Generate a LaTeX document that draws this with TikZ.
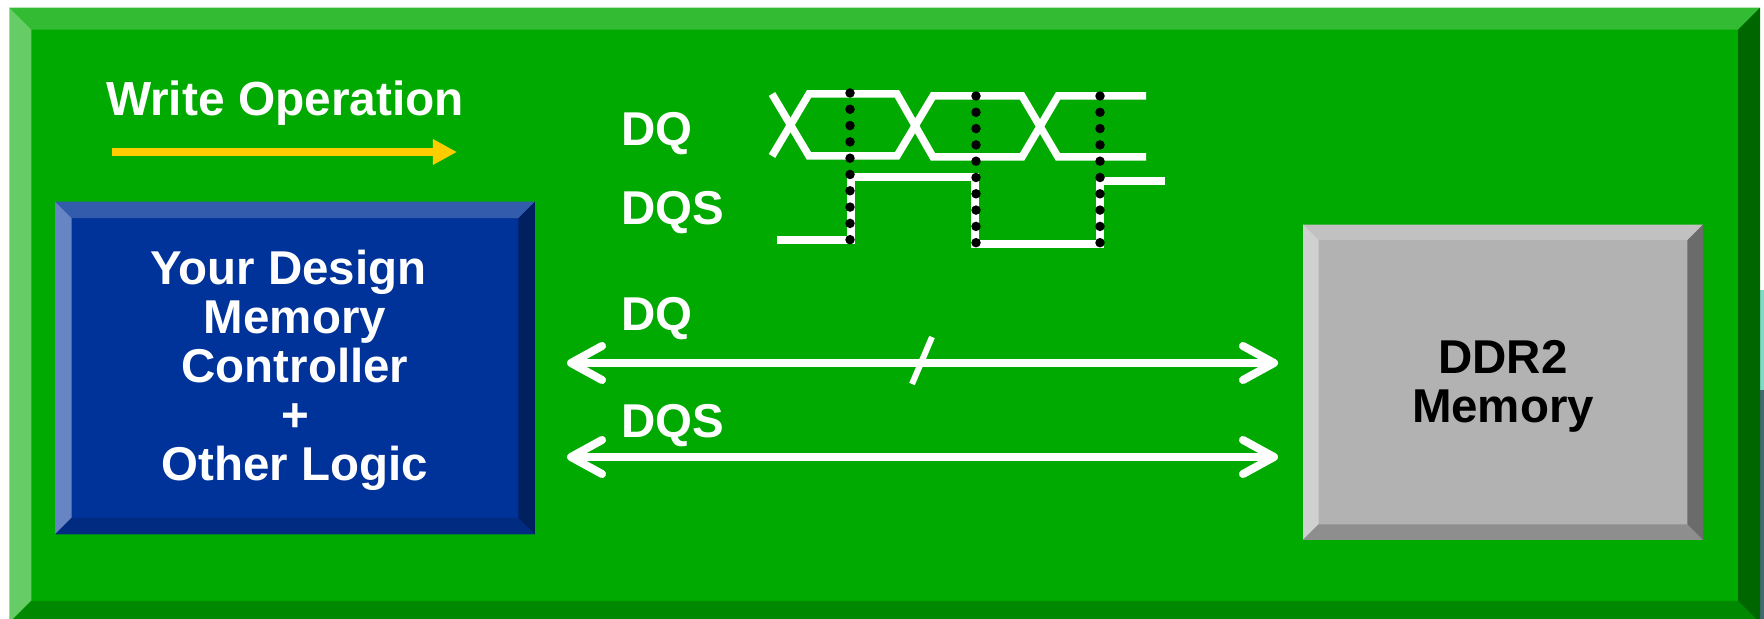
\documentclass[tikz,border=0pt]{standalone}
\usepackage{fontspec}
\setmainfont{Liberation Sans}
\usetikzlibrary{arrows.meta,calc}
\definecolor{framegreen}{HTML}{00AA00}
\definecolor{frametop}{HTML}{33BB33}
\definecolor{frameleft}{HTML}{66CC66}
\definecolor{framebottom}{HTML}{008800}
\definecolor{frameright}{HTML}{006600}
\definecolor{designblue}{HTML}{003399}
\definecolor{designtop}{HTML}{335CAD}
\definecolor{designleft}{HTML}{6685C2}
\definecolor{designbottom}{HTML}{002B80}
\definecolor{designright}{HTML}{002060}
\definecolor{memgray}{HTML}{B2B2B2}
\definecolor{memtop}{HTML}{C1C1C1}
\definecolor{memleft}{HTML}{D0D0D0}
\definecolor{membottom}{HTML}{8E8E8E}
\definecolor{memright}{HTML}{6B6B6B}
\definecolor{writeyellow}{HTML}{FFCC00}
\definecolor{edgelight}{HTML}{7FD8C8}
\definecolor{edgedark}{HTML}{3F6A70}
% node name, depth, then top, left, bottom and right colours
\newcommand{\bevelnode}[6]{
  \coordinate (inw) at ($(#1.north west)+(#2,#2)$);
  \coordinate (ine) at ($(#1.north east)+(-#2,#2)$);
  \coordinate (isw) at ($(#1.south west)+(#2,-#2)$);
  \coordinate (ise) at ($(#1.south east)+(-#2,-#2)$);
  \fill[#3] (#1.north west) -- (#1.north east) -- (ine) -- (inw) -- cycle;
  \fill[#4] (#1.north west) -- (#1.south west) -- (isw) -- (inw) -- cycle;
  \fill[#5] (#1.south west) -- (#1.south east) -- (ise) -- (isw) -- cycle;
  \fill[#6] (#1.north east) -- (#1.south east) -- (ise) -- (ine) -- cycle;
}
\begin{document}
\begin{tikzpicture}[
  x=0.01cm, y=-0.01cm,
  bevelbox/.style={rectangle, inner sep=0pt, align=center, font=\fontsize{13.5}{13.95}\selectfont\bfseries},
  label/.style={inner sep=0pt, anchor=base west, text=white, font=\fontsize{13.5}{14}\selectfont\bfseries},
  wave/.style={draw=white, line width=0.075cm, miter limit=10},
  bus/.style={draw=white, line width=0.08cm, {Straight Barb[length=0.31cm,width=0.34cm,round]}-{Straight Barb[length=0.31cm,width=0.34cm,round]}},
  strobe/.style={fill=black, circle, inner sep=0pt, minimum size=0.095cm},
]
  \useasboundingbox (0,0) rectangle (1764,619);

  % scrap at the right edge
  \fill[edgelight] (1755,290) rectangle (1764,390);
  \fill[edgedark] (1755,390) rectangle (1764,619);

  % frame
  \node[bevelbox, fill=framegreen, minimum width=17.485cm, minimum height=6.135cm] (frame) at (884.75,315.25) {};
  \bevelnode{frame}{22}{frametop}{frameleft}{framebottom}{frameright}

  % boxes
  \node[bevelbox, fill=designblue, text=white, minimum width=4.78cm, minimum height=3.31cm] (design) at (295,368)
    {\rule{0pt}{0.385cm}Your Design\hspace*{0.13cm}\\Memory\\Controller\\+\\Other Logic};
  \bevelnode{design}{16.5}{designtop}{designleft}{designbottom}{designright}
  \node[bevelbox, fill=memgray, text=black, minimum width=3.98cm, minimum height=3.135cm] (memory) at (1503,382.25)
    {\rule{0pt}{0.42cm}DDR2\\Memory};
  \bevelnode{memory}{15.5}{memtop}{memleft}{membottom}{memright}

  % write direction
  \node[label, anchor=base, font=\fontsize{13.6}{14}\selectfont\bfseries] (write) at (285,116) {Write Operation};
  \coordinate (writes) at (112,152);
  \coordinate (writee) at (457,152);
  \draw[writeyellow, line width=0.08cm, -{Triangle[length=0.24cm,width=0.24cm]}] (writes) -- (writee);

  % waveforms
  \node[label] (dqtop) at (621,146) {DQ};
  \node[label] (dqstop) at (621,225) {DQS};
  \draw[wave] (772,94) -- (809,156) -- (897,156) -- (933,96) -- (1022,96) -- (1058,157) -- (1146,157);
  \draw[wave] (772,156) -- (809,94) -- (897,94) -- (933,157) -- (1022,157) -- (1058,96) -- (1146,96);
  \draw[wave] (777,240) -- (851,240) -- (851,177) -- (975,177) -- (975,244) -- (1100,244) -- (1100,181) -- (1165,181);
  \foreach \xa/\ya in {850/93, 976/96, 1100/96}
    \foreach \i in {0,...,9}
      \node[strobe] (dot\xa-\i) at (\xa,\ya+16.3*\i) {};

  % buses
  \node[label] (dqbus) at (621,331) {DQ};
  \node[label] (dqsbus) at (621,438) {DQS};
  \coordinate (dql) at (567,363);
  \coordinate (dqr) at (1278,363);
  \coordinate (dqsl) at (567,457);
  \coordinate (dqsr) at (1278,457);
  \coordinate (slasht) at (932,337);
  \coordinate (slashb) at (912,384);
  \draw[bus] (dql) -- (dqr);
  \draw[bus] (dqsl) -- (dqsr);
  \draw[white, line width=0.06cm] (slasht) -- (slashb);
\end{tikzpicture}
\end{document}
